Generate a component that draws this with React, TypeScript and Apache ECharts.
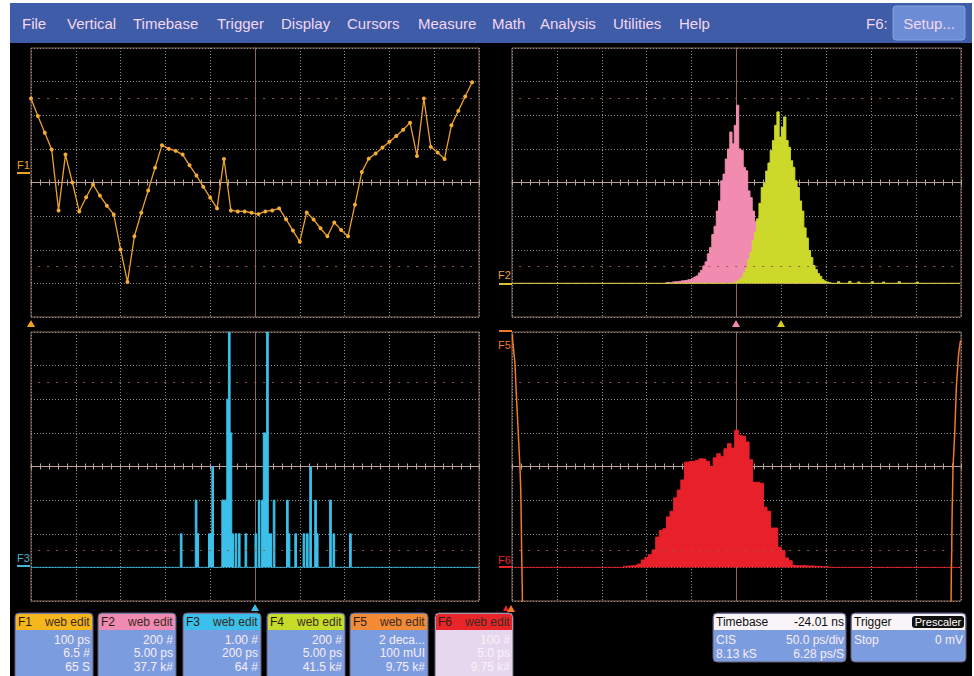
import { useEffect, useRef } from "react";
import * as echarts from "echarts";

// ---------------- DATA ----------------
// F1: sampled track, ps (100 ps/div), one value per sample
const f1Values = [250, 198, 148, 98, -83, 83, 0, -86, -44, -6, -39, -69, -95, -199, -296, -160, -90, -24, 44, 111, 100, 94, 83, 51, 21, -13, -45, -77, 70, -83, -86, -86, -90, -94, -86, -83, -77, -109, -143, -176, -89, -110, -136, -160, -119, -141, -160, -66, 31, 71, 86, 104, 121, 138, 157, 178, 79, 250, 106, 89, 70, 170, 213, 256, 298];
const F1_SAMPLE_SPAN = 65;

// F2 / F4 histograms (200 hits/div), 200 bins across the screen
const F24_BINS = 200;
const f2FirstBin = 68;
const f2Counts = [4, 6, 5, 8, 10, 9, 12, 15, 16, 18, 22, 24, 30, 38, 44, 62, 78, 104, 128, 176, 214, 290, 340, 430, 490, 610, 650, 740, 800, 900, 830, 940, 1060, 800, 790, 690, 670, 550, 510, 430, 370, 290, 250, 180, 150, 96, 72, 48, 32, 18, 12, 6];
const f4FirstBin = 98;
const f4Counts = [4, 8, 12, 22, 34, 62, 88, 142, 186, 254, 306, 384, 476, 570, 596, 668, 716, 790, 850, 940, 1020, 870, 930, 990, 850, 810, 730, 690, 610, 570, 490, 430, 330, 270, 196, 154, 106, 82, 58, 42, 22, 14, 8, 4, 0, 0, 0, 10, 0, 0, 0, 0, 12, 0, 0, 0, 8, 0, 0, 0, 0, 0, 10, 0, 0, 0, 0, 8, 0, 0, 0, 0, 0, 0, 10, 0, 0, 0, 0, 0, 0, 0, 8];

// F3 histogram (1 hit/div), 270 bins across the screen
const F3_BINS = 270;
const f3Bins = [90, 99, 100, 107, 108, 109, 115, 116, 117, 118, 119, 120, 121, 123, 125, 129, 135, 137, 139, 140, 141, 142, 143, 144, 146, 154, 155, 159, 164, 166, 168, 171, 172, 180, 182, 192];
const f3Counts = [1, 2, 1, 1, 1, 3, 2, 2, 2, 5, 7, 4, 1, 1, 1, 1, 1, 2, 2, 4, 4, 7, 1, 1, 2, 2, 1, 1, 1, 1, 3, 2, 1, 2, 1, 1];

// F6 histogram (100 hits/div), 125 bins across the screen
const F6_BINS = 125;
const f6FirstBin = 31;
const f6Counts = [3, 4, 5, 6, 10, 22, 30, 38, 52, 90, 110, 115, 150, 167, 207, 230, 260, 313, 315, 315, 318, 323, 322, 315, 300, 326, 338, 330, 353, 368, 355, 408, 393, 390, 373, 320, 253, 253, 250, 179, 167, 117, 117, 60, 50, 28, 20, 6, 5, 5, 5, 4, 4, 3, 3, 2, 2];

// F5 bathtub curve: position (UI) and log10(BER)
const f5LeftUI = [0.001, 0.0015, 0.0045, 0.0067, 0.0089, 0.0104, 0.0126, 0.0141, 0.0163, 0.0178, 0.0193, 0.0201, 0.0208, 0.0215, 0.0223, 0.023, 0.0234];
const f5LeftLog = [-0.1, -0.5, -1.3, -1.9, -3.3, -4.1, -5.3, -6.1, -7.3, -8.1, -9.2, -10.4, -11.6, -13.2, -14.4, -15.6, -16.5];
const f5RightUI = [0.9777, 0.9785, 0.9792, 0.98, 0.9814, 0.9822, 0.9844, 0.9859, 0.9881, 0.9896, 0.9926, 0.9948, 0.9978, 0.9993];
const f5RightLog = [-16.5, -14.4, -13.2, -11.2, -9.2, -8.1, -6.9, -6.1, -4.5, -3.3, -2.1, -1.3, -0.7, -0.5];

// menu & info boxes text
const menuItems = ["File", "Vertical", "Timebase", "Trigger", "Display", "Cursors", "Measure", "Math", "Analysis", "Utilities", "Help"];
const funcNames = ["F1", "F2", "F3", "F4", "F5", "F6"];
const funcRow1 = ["100 ps", "200 #", "1.00 #", "200 #", "2 deca...", "100 #"];
const funcRow2 = ["6.5 #", "5.00 ps", "200 ps", "5.00 ps", "100 mUI", "5.0 ps"];
const funcRow3 = ["65 S", "37.7 k#", "64 #", "41.5 k#", "9.75 k#", "9.75 k#"];

// ---------------- STYLE / LAYOUT ----------------
const MENU_X = [22, 67, 133, 217, 281, 347, 418, 492, 540, 613, 679];
const FUNC_COLORS = ["#f6b71c", "#ef8ab2", "#3ac0ea", "#c6dc2a", "#f28a36", "#e8262a"];
const BOX_X = [15, 98, 183, 267, 350, 435];
const FRAME = "#8c6a5c";
const CENTER = "#bba099";
const DOT = "#8e8e8e";
const REFDOT = "#a0584a";
const PINK = "#f28bb0";
const YEL = "#cdd92a";
const CYAN = "#3cc0ea";
const RED = "#e8202a";
const ORANGE = "#ee7a2a";
const F1C = "#eca02e";
const BOXBLUE = "#7b9ddf";
const TXT = "#f9ecf8";
const FONT = '"Liberation Sans", Arial, sans-serif';

const GRIDS = [
  { left: 31, top: 48, width: 448, height: 269 },
  { left: 512, top: 48, width: 449, height: 269 },
  { left: 31, top: 332, width: 448, height: 269 },
  { left: 512, top: 332, width: 449, height: 269 },
];

function placeRun(n: number, start: number, counts: number[]) {
  const a = new Array(n).fill(0);
  counts.forEach((c, i) => { if (start + i < n) a[start + i] = c; });
  return a;
}
function placeSparse(n: number, bins: number[], counts: number[]) {
  const a = new Array(n).fill(0);
  bins.forEach((b, i) => { a[b] = counts[i]; });
  return a;
}
const binLabels = (n: number) => Array.from({ length: n }, (_, i) => String(i));

function gratX(g: number, inside: boolean, split: boolean) {
  return {
    type: "value", gridIndex: g, min: -5, max: 5, interval: 1, position: "bottom",
    axisLine: { show: true, onZero: true, onZeroAxisIndex: g, lineStyle: { color: CENTER, width: 1 } },
    axisTick: { show: true, inside, length: 3, lineStyle: { color: CENTER } },
    minorTick: { show: true, splitNumber: 5, length: 3, lineStyle: { color: CENTER } },
    axisLabel: { show: false },
    splitLine: { show: split, lineStyle: { color: DOT, type: [1, 2], width: 1 } },
    minorSplitLine: { show: false },
  };
}
function gratY(g: number) {
  return {
    type: "value", gridIndex: g, min: -4, max: 4, interval: 1,
    axisLine: { show: true, onZero: true, onZeroAxisIndex: 2 * g, lineStyle: { color: FRAME, width: 1 } },
    axisTick: { show: false },
    axisLabel: { show: false },
    splitLine: { show: true, lineStyle: { color: DOT, type: [1, 2], width: 1 } },
  };
}

function txt(text: string, x: number, y: number, fill: string, font: string, align = "left", extra: any = {}) {
  return { type: "text", x, y, z: 50, style: { text, fill, font, textAlign: align, textVerticalAlign: "middle", ...extra } };
}
function tri(x: number, y: number, fill: string, w = 8, h = 7) {
  return { type: "polygon", z: 50, shape: { points: [[x - w / 2, y + h], [x + w / 2, y + h], [x, y]] }, style: { fill } };
}
function hline(x1: number, x2: number, y: number, stroke: string, lw = 2) {
  return { type: "line", z: 50, shape: { x1, y1: y, x2, y2: y }, style: { stroke, lineWidth: lw } };
}

function buildGraphic() {
  const g: any[] = [];
  // white page margins
  g.push({ type: "rect", shape: { x: 0, y: 0, width: 10, height: 676 }, style: { fill: "#fff" } });
  g.push({ type: "rect", shape: { x: 0, y: 0, width: 974, height: 3 }, style: { fill: "#fff" } });
  g.push({ type: "rect", shape: { x: 972, y: 0, width: 2, height: 676 }, style: { fill: "#fff" } });
  // menu bar
  g.push({ type: "rect", shape: { x: 10, y: 3, width: 962, height: 40 }, style: { fill: "#3f5ca9" } });
  menuItems.forEach((m, i) => g.push(txt(m, MENU_X[i], 23, "#f3d7ef", `15px ${FONT}`)));
  g.push(txt("F6:", 866, 23, "#f3d7ef", `15px ${FONT}`));
  g.push({ type: "rect", shape: { x: 893, y: 6, width: 72, height: 34, r: 3 }, style: { fill: "#6c8dd5", stroke: "#86a2de" } });
  g.push(txt("Setup...", 929, 23, "#f3d7ef", `15px ${FONT}`, "center"));

  // channel labels & markers
  g.push(txt("F1", 17, 165, F1C, `11px ${FONT}`));
  g.push(hline(17, 30, 173, F1C));
  g.push(txt("F2", 498, 275, "#e2a444", `11px ${FONT}`));
  g.push(hline(499, 512, 284, "#d8c23a"));
  g.push(hline(499, 512, 331, ORANGE));
  g.push(txt("F5", 498, 345, ORANGE, `11px ${FONT}`));
  g.push(txt("F3", 17, 558, "#46b6d6", `11px ${FONT}`));
  g.push(hline(17, 30, 566, "#46b6d6"));
  g.push(txt("F6", 498, 560, RED, `11px ${FONT}`));
  g.push(hline(499, 512, 567, RED));
  g.push(tri(31, 320, "#f2a61c"));
  g.push(tri(736, 320, PINK));
  g.push(tri(781, 320, "#d8cc22"));
  g.push(tri(255, 604, CYAN));
  g.push(tri(506, 605, RED, 6, 6));
  g.push(tri(511, 605, ORANGE));

  // function info boxes
  funcNames.forEach((name, i) => {
    const x = BOX_X[i];
    const faded = i === 5;
    const tf = faded ? "#ffffff" : TXT;
    const op = faded ? 0.75 : 1;
    g.push({ type: "rect", z: 40, shape: { x, y: 613, width: 78, height: 70, r: [4, 4, 0, 0] }, style: { fill: faded ? "#e6d6ee" : BOXBLUE, stroke: "#6a5a70", lineWidth: 1 } });
    g.push({ type: "rect", z: 41, shape: { x: x + 1, y: 614, width: 76, height: 16, r: [3, 3, 0, 0] }, style: { fill: FUNC_COLORS[i] } });
    g.push(txt(name, x + 3, 622, "#2a1a14", `12px ${FONT}`));
    g.push(txt("web edit", x + 30, 622, "#3a2a20", `12px ${FONT}`, "left", { width: 47, overflow: "truncate", ellipsis: "" }));
    g.push(txt(funcRow1[i], x + 75, 640, tf, `12px ${FONT}`, "right", { opacity: op }));
    g.push(txt(funcRow2[i], x + 75, 653, tf, `12px ${FONT}`, "right", { opacity: op }));
    g.push(txt(funcRow3[i], x + 75, 667, tf, `12px ${FONT}`, "right", { opacity: op }));
  });

  // timebase box
  g.push({ type: "rect", z: 40, shape: { x: 713, y: 613, width: 133, height: 49, r: 4 }, style: { fill: BOXBLUE, stroke: "#6a5a70" } });
  g.push({ type: "rect", z: 41, shape: { x: 714, y: 614, width: 131, height: 16, r: [3, 3, 0, 0] }, style: { fill: "#f8f4f8" } });
  g.push(txt("Timebase", 716, 622, "#101010", `12px ${FONT}`));
  g.push(txt("-24.01 ns", 844, 622, "#101010", `12px ${FONT}`, "right"));
  g.push(txt("CIS", 716, 640, TXT, `12px ${FONT}`));
  g.push(txt("50.0 ps/div", 844, 640, TXT, `12px ${FONT}`, "right"));
  g.push(txt("8.13 kS", 716, 654, TXT, `12px ${FONT}`));
  g.push(txt("6.28 ps/S", 844, 654, TXT, `12px ${FONT}`, "right"));
  // trigger box
  g.push({ type: "rect", z: 40, shape: { x: 851, y: 613, width: 115, height: 49, r: 4 }, style: { fill: BOXBLUE, stroke: "#6a5a70" } });
  g.push({ type: "rect", z: 41, shape: { x: 852, y: 614, width: 113, height: 16, r: [3, 3, 0, 0] }, style: { fill: "#f8f4f8" } });
  g.push(txt("Trigger", 854, 622, "#101010", `12px ${FONT}`));
  g.push({ type: "rect", z: 42, shape: { x: 912, y: 616, width: 52, height: 12, r: 3 }, style: { fill: "#111" } });
  g.push(txt("Prescaler", 938, 622, "#ffffff", `11px ${FONT}`, "center"));
  g.push(txt("Stop", 854, 640, TXT, `12px ${FONT}`));
  g.push(txt("0 mV", 963, 640, TXT, `12px ${FONT}`, "right"));
  return g;
}

function buildOption() {
  const xAxes: any[] = [];
  const yAxes: any[] = [];
  GRIDS.forEach((_, g) => {
    xAxes.push(gratX(g, false, true));
    xAxes.push(gratX(g, true, false));
    yAxes.push(gratY(g));
  });
  xAxes.push({ type: "value", gridIndex: 0, min: 0, max: F1_SAMPLE_SPAN, show: false }); // 8
  yAxes.push({ type: "value", gridIndex: 0, min: -400, max: 400, show: false }); // 4
  xAxes.push({ type: "category", gridIndex: 1, data: binLabels(F24_BINS), show: false }); // 9
  yAxes.push({ type: "value", gridIndex: 1, min: -200, max: 1400, show: false }); // 5
  xAxes.push({ type: "category", gridIndex: 2, data: binLabels(F3_BINS), show: false }); // 10
  yAxes.push({ type: "value", gridIndex: 2, min: -1, max: 7, show: false }); // 6
  xAxes.push({ type: "category", gridIndex: 3, data: binLabels(F6_BINS), show: false }); // 11
  yAxes.push({ type: "value", gridIndex: 3, min: -100, max: 700, show: false }); // 7
  xAxes.push({ type: "value", gridIndex: 3, min: 0, max: 1, show: false }); // 12
  yAxes.push({ type: "value", gridIndex: 3, min: -16, max: 0, show: false }); // 8

  const refSeries = GRIDS.map((_, g) => ({
    type: "line", xAxisIndex: 2 * g, yAxisIndex: g, data: [], silent: true, z: 1,
    markLine: {
      silent: true, symbol: ["none", "none"], label: { show: false }, emphasis: { disabled: true },
      lineStyle: { color: REFDOT, type: [2, 7], width: 1 },
      data: [
        [{ coord: [-4.84, 2.5] }, { coord: [4.84, 2.5] }],
        [{ coord: [-4.84, -2.5] }, { coord: [4.84, -2.5] }],
      ],
    },
  }));

  const histStyle = (c: string, z: number) => ({
    type: "line", step: "middle", symbol: "none", silent: true, z,
    lineStyle: { color: c, width: 1 }, areaStyle: { color: c, opacity: 1 }, itemStyle: { color: c },
  });

  const series: any[] = [
    ...refSeries,
    {
      name: "F1", type: "line", xAxisIndex: 8, yAxisIndex: 4, silent: true, z: 3,
      data: f1Values.map((v, i) => [i, v]),
      symbol: "circle", symbolSize: 4, showSymbol: true,
      lineStyle: { color: F1C, width: 1.3 }, itemStyle: { color: "#f4ac36" },
    },
    { name: "F2", ...histStyle(PINK, 2), xAxisIndex: 9, yAxisIndex: 5, data: placeRun(F24_BINS, f2FirstBin, f2Counts) },
    { name: "F4", ...histStyle(YEL, 4), xAxisIndex: 9, yAxisIndex: 5, data: placeRun(F24_BINS, f4FirstBin, f4Counts) },
    { name: "F3", ...histStyle(CYAN, 3), xAxisIndex: 10, yAxisIndex: 6, data: placeSparse(F3_BINS, f3Bins, f3Counts) },
    { name: "F6", ...histStyle(RED, 2), xAxisIndex: 11, yAxisIndex: 7, data: placeRun(F6_BINS, f6FirstBin, f6Counts) },
    {
      name: "F5", type: "line", xAxisIndex: 12, yAxisIndex: 8, symbol: "none", silent: true, z: 4,
      data: f5LeftUI.map((u, i) => [u, f5LeftLog[i]]), lineStyle: { color: ORANGE, width: 1.5 },
    },
    {
      name: "F5", type: "line", xAxisIndex: 12, yAxisIndex: 8, symbol: "none", silent: true, z: 4,
      data: f5RightUI.map((u, i) => [u, f5RightLog[i]]), lineStyle: { color: ORANGE, width: 1.5 },
    },
  ];

  return {
    animation: false,
    backgroundColor: "#000",
    grid: GRIDS.map((gr) => ({ ...gr, show: true, borderColor: FRAME, borderWidth: 1, backgroundColor: "transparent", containLabel: false })),
    xAxis: xAxes,
    yAxis: yAxes,
    series,
    graphic: { elements: buildGraphic() },
  };
}

export default function App() {
  const ref = useRef<HTMLDivElement>(null);
  useEffect(() => {
    document.body.style.margin = "0";
    document.body.style.background = "#fff";
    const chart = echarts.init(ref.current!, null, { renderer: "svg" });
    chart.setOption(buildOption() as any);
    return () => chart.dispose();
  }, []);
  return <div ref={ref} style={{ width: 974, height: 676 }} />;
}
